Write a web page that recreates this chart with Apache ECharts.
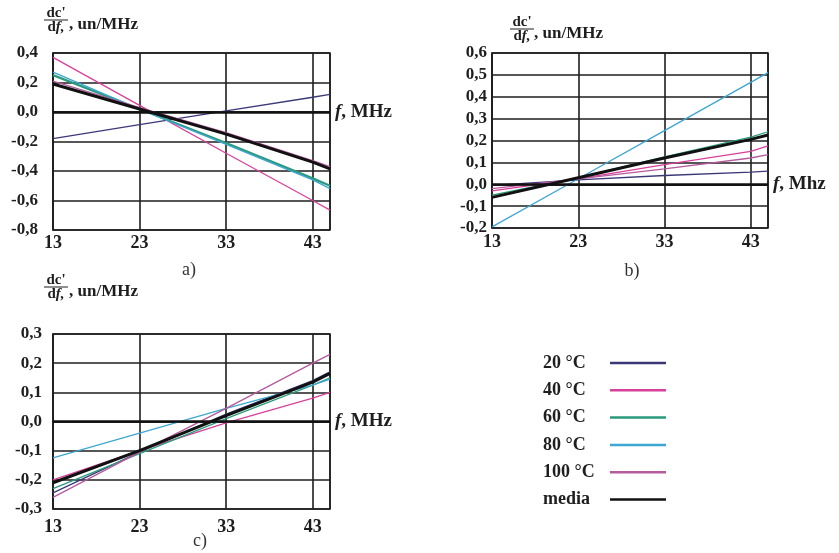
<!DOCTYPE html>
<html><head><meta charset="utf-8">
<script src="https://cdn.jsdelivr.net/npm/echarts@6/dist/echarts.min.js"></script>
<style>html,body{margin:0;padding:0;background:#fff}#c{width:839px;height:553px}</style>
</head><body><div id="c"></div>
<script>
// ---- data ----
const freqs = [13, 23, 33, 43, 45];
const seriesNames = ['20 °C', '40 °C', '60 °C', '80 °C', '100 °C', 'media'];

// panel a)
const a_20  = [-0.18, -0.086, 0.008, 0.10, 0.12];
const a_40  = [0.37, 0.045, -0.28, -0.60, -0.665];
const a_60  = [0.25, 0.02, -0.21, -0.45, -0.50];
const a_80  = [0.27, 0.02, -0.22, -0.46, -0.52];
const a_100 = [0.21, 0.03, -0.14, -0.33, -0.37];
const a_med = [0.19, 0.02, -0.15, -0.34, -0.385];

// panel b)
const b_20  = [-0.005, 0.02, 0.04, 0.055, 0.06];
const b_40  = [-0.03, 0.025, 0.09, 0.15, 0.175];
const b_60  = [-0.05, 0.03, 0.125, 0.215, 0.24];
const b_80  = [-0.195, 0.025, 0.245, 0.466, 0.51];
const b_100 = [-0.02, 0.025, 0.07, 0.12, 0.135];
const b_med = [-0.06, 0.03, 0.12, 0.205, 0.225];

// panel c)
const c_20  = [-0.245, -0.105, 0.025, 0.14, 0.17];
const c_40  = [-0.2, -0.1, -0.005, 0.08, 0.1];
const c_60  = [-0.23, -0.11, 0.01, 0.125, 0.15];
const c_80  = [-0.125, -0.04, 0.045, 0.125, 0.145];
const c_100 = [-0.26, -0.105, 0.045, 0.2, 0.23];
const c_med = [-0.21, -0.1, 0.02, 0.135, 0.165];

const panels = [
  [a_20, a_40, a_60, a_80, a_100, a_med],
  [b_20, b_40, b_60, b_80, b_100, b_med],
  [c_20, c_40, c_60, c_80, c_100, c_med]
];
const yRanges = [[-0.8, 0.4, 0.2], [-0.2, 0.6, 0.1], [-0.3, 0.3, 0.1]];
const zeroLabels = ['MHz', 'Mhz', 'MHz'];
const panelLetters = ['a)', 'b)', 'c)'];

// ---- styling ----
const colors = ['#3b3878', '#d8409a', '#2a9a7c', '#3ea6d2', '#b65a9e', '#111111'];
const FONT = '"Liberation Serif", "Times New Roman", serif';
const INK = '#1e1e1e';
const grids = [
  {left: 53, top: 53, width: 277, height: 177},
  {left: 492, top: 53, width: 276, height: 175},
  {left: 53, top: 334, width: 277, height: 175}
];
const yLabelMargins = [15, 5, 11];
const xLabelMargins = [4, 5, 9];

const chart = echarts.init(document.getElementById('c'), null, {renderer: 'canvas'});

const xAxes = grids.map((g, p) => ({
  type: 'value', gridIndex: p, min: 13, max: 45, interval: 10,
  axisLine: {show: true, lineStyle: {color: INK, width: 1.5}},
  axisTick: {show: false},
  splitLine: {show: true, lineStyle: {color: INK, width: 1.6}},
  axisLabel: {showMaxLabel: false, margin: xLabelMargins[p], color: INK,
    fontFamily: FONT, fontWeight: 'bold', fontSize: 18}
}));
const yAxes = grids.map((g, p) => ({
  type: 'value', gridIndex: p, min: yRanges[p][0], max: yRanges[p][1], interval: yRanges[p][2],
  axisLine: {show: true, lineStyle: {color: INK, width: 1.5}},
  axisTick: {show: false},
  splitLine: {show: true, lineStyle: {color: INK, width: 1.6}},
  axisLabel: {margin: yLabelMargins[p], color: INK, fontFamily: FONT, fontWeight: 'bold', fontSize: 17,
    formatter: v => (Math.abs(v) < 1e-9 ? 0 : v).toFixed(1).replace('.', ',')}
}));

const series = [];
panels.forEach((vals, p) => {
  vals.forEach((arr, i) => {
    const isMed = i === 5;
    const s = {
      type: 'line', name: seriesNames[i], xAxisIndex: p, yAxisIndex: p,
      data: freqs.map((f, k) => [f, arr[k]]),
      symbol: 'none', showSymbol: false, smooth: false,
      lineStyle: {color: colors[i], width: isMed ? 3 : ((p === 0 && i === 2) ? 2.2 : 1.3)},
      itemStyle: {color: colors[i]},
      z: isMed ? 5 : 3, silent: true
    };
    if (isMed) {
      s.markLine = {
        silent: true, symbol: 'none',
        lineStyle: {color: '#111', width: 2.6, type: 'solid'},
        label: {show: true, position: 'end', distance: 5, color: INK,
          formatter: '{i|f}{b|, ' + zeroLabels[p] + '}',
          rich: {
            i: {fontFamily: FONT, fontStyle: 'italic', fontWeight: 'bold', fontSize: 19, color: INK},
            b: {fontFamily: FONT, fontWeight: 'bold', fontSize: 19, color: INK}
          }},
        data: [{yAxis: 0}]
      };
    }
    series.push(s);
  });
});

// y-axis titles as fractions
function yTitle(cx, cy, unitX) {
  const base = {fontFamily: FONT, fontWeight: 'bold', fill: INK};
  return [
    {type: 'text', x: cx, y: cy, style: Object.assign({text: "dc'", fontSize: 15, align: 'center', verticalAlign: 'middle'}, base)},
    {type: 'line', shape: {x1: cx - 12, y1: cy + 7, x2: cx + 12, y2: cy + 7}, style: {stroke: INK, lineWidth: 1}},
    {type: 'text', x: cx, y: cy + 14, style: Object.assign({
      text: '{d|d}{f|f,}', fontSize: 15, align: 'center', verticalAlign: 'middle',
      rich: {d: {fontFamily: FONT, fontWeight: 'bold', fontSize: 15, fill: INK},
             f: {fontFamily: FONT, fontWeight: 'bold', fontStyle: 'italic', fontSize: 15, fill: INK}}}, base)},
    {type: 'text', x: unitX, y: cy + 12, style: Object.assign({text: ', un/MHz', fontSize: 17, align: 'left', verticalAlign: 'middle'}, base)}
  ];
}
const letterPos = [[189, 270], [632, 271], [200, 541]];
const graphic = [].concat(
  yTitle(56, 13, 69),
  yTitle(522, 22, 534),
  yTitle(56, 280, 69),
  letterPos.map((pt, p) => ({type: 'text', x: pt[0], y: pt[1],
    style: {text: panelLetters[p], fontFamily: FONT, fontSize: 18, fill: '#333', align: 'center', verticalAlign: 'middle'}}))
);

chart.setOption({
  animation: false,
  backgroundColor: '#ffffff',
  grid: grids.map(g => Object.assign({show: true, borderColor: INK, borderWidth: 1.5, backgroundColor: '#fff', containLabel: false}, g)),
  xAxis: xAxes,
  yAxis: yAxes,
  legend: {
    orient: 'vertical', left: 538, top: 349, align: 'right',
    icon: 'rect', itemWidth: 56, itemHeight: 2.5, itemGap: 9.3,
    data: seriesNames,
    formatter: name => '{t|' + name + '}',
    textStyle: {fontFamily: FONT, fontWeight: 'bold', fontSize: 18, color: INK, lineHeight: 18,
      rich: {t: {width: 62, align: 'left', fontFamily: FONT, fontWeight: 'bold', fontSize: 18, color: INK, lineHeight: 18}}},
    selectedMode: false
  },
  graphic: graphic,
  series: series
});
</script>
</body></html>
